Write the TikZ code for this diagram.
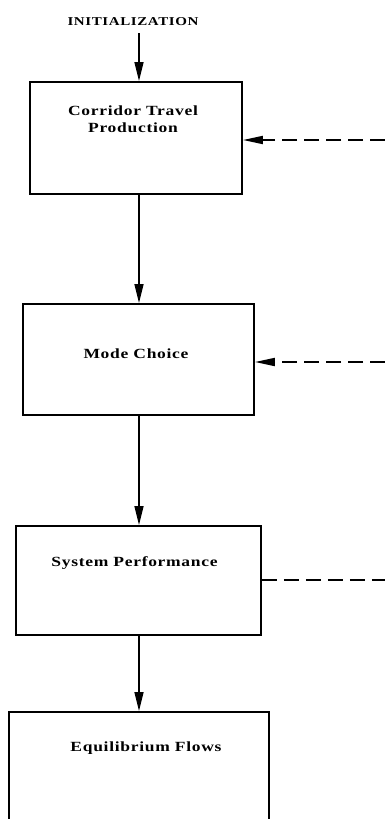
\documentclass[tikz,border=0pt]{standalone}
\usepackage{fontspec}
\setmainfont{Liberation Serif}[FakeStretch=1.25,LetterSpace=5]
\usetikzlibrary{arrows.meta}

\begin{document}
\begin{tikzpicture}[x=1pt,y=-1pt,
  block/.style={draw, line width=1.9pt, inner sep=0pt, anchor=north west},
  lbl/.style={font=\bfseries\fontsize{14}{17}\selectfont, align=center, inner sep=0pt, anchor=base},
  headlbl/.style={lbl, font=\bfseries\fontsize{12}{13}\selectfont},
  flow/.style={line width=1.4pt, -{Triangle[length=19pt,width=9pt]}},
  feedback/.style={line width=1.8pt, dash pattern=on 15pt off 7pt, -{Triangle[length=20pt,width=8pt]}},
  feedbackline/.style={line width=1.8pt, dash pattern=on 15pt off 7pt}
]
\useasboundingbox (0,0) rectangle (385,819);
\clip (0,0) rectangle (385,819);

% the vertical line that carries the main flow
\coordinate (spine) at (139,0);

% blocks
\node[block, minimum width=212pt, minimum height=112pt] (prod) at (29,81) {};
\node[block, minimum width=231pt, minimum height=111pt] (mode) at (22,303) {};
\node[block, minimum width=245pt, minimum height=109pt] (perf) at (15,525) {};
\node[block, minimum width=260pt, minimum height=130pt] (equi) at (8,711) {};

% block titles (base = baseline of the last line)
\node[headlbl] (inittxt) at (133,25) {INITIALIZATION};
\node[lbl] (prodtxt) at (133,132) {Corridor Travel\\Production};
\node[lbl] (modetxt) at (136,358) {Mode Choice};
\node[lbl] (perftxt) at (134.5,566) {System Performance};
\node[lbl] (equitxt) at (146,751) {Equilibrium Flows};

% main flow
\draw[flow, shorten <=8pt] (inittxt.south -| spine) -- (prod.north -| spine);
\draw[flow] (prod.south -| spine) -- (mode.north -| spine);
\draw[flow] (mode.south -| spine) -- (perf.north -| spine);
\draw[flow] (perf.south -| spine) -- (equi.north -| spine);

% feedback loops entering from the right
\coordinate (fbprod) at (385,140);
\coordinate (fbmode) at (385,362);
\coordinate (fbperf) at (385,580);
\draw[feedback] (fbprod) -- (prod.east |- fbprod);
\draw[feedback] (fbmode) -- (mode.east |- fbmode);
\draw[feedbackline] (perf.east |- fbperf) -- (fbperf);
\end{tikzpicture}
\end{document}
